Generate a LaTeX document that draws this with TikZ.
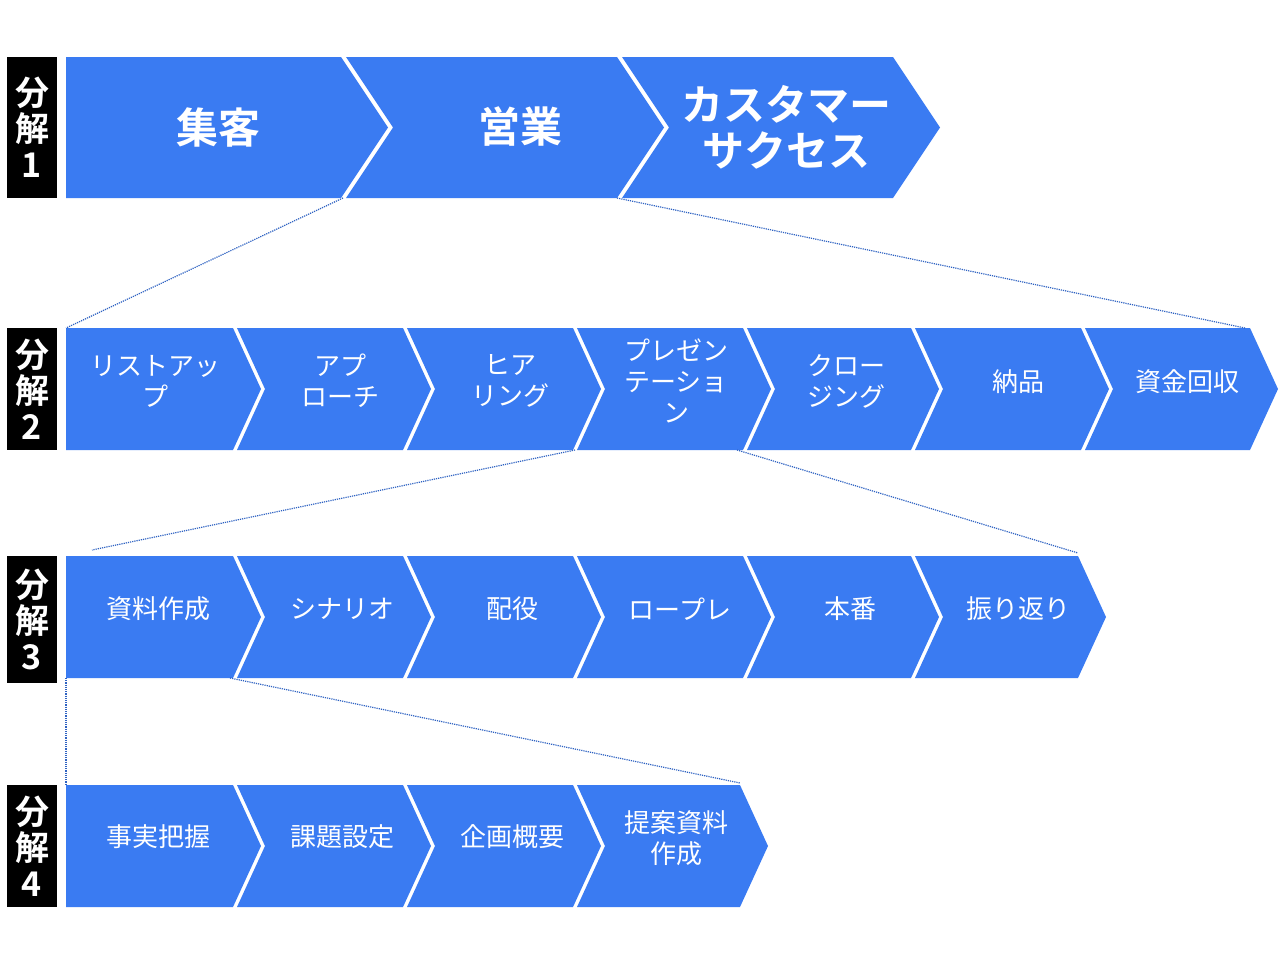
\documentclass[tikz,border=0pt]{standalone}
\usepackage{fontspec}
\newfontfamily\jp{Noto Sans CJK JP}
\newfontfamily\jpb{Noto Sans CJK JP Bold}
\definecolor{cblue}{HTML}{3A7BF2}
\tikzset{
  lbl/.style={fill=black,text=white,minimum width=50pt,inner sep=0pt,font=\jpb\fontsize{34}{36}\selectfont,align=center},
  txt/.style={text=white,align=center,font=\jp\fontsize{26}{31}\selectfont},
  big/.style={text=white,align=center,font=\jpb\fontsize{42}{46}\selectfont},
  link/.style={densely dotted,cblue!80!black,line width=1.2pt}
}
% \chev{start}{end}{top}{bot}{depth}{notch 0/1}
\newcommand\mychev[6]{%
  \pgfmathsetmacro\mid{(#3+#4)/2}%
  \ifnum#6=1
    \fill[cblue] (#1,#3) -- (#2,#3) -- (#2+#5,\mid) -- (#2,#4) -- (#1,#4) -- (#1+#5,\mid) -- cycle;
  \else
    \fill[cblue] (#1,#3) -- (#2,#3) -- (#2+#5,\mid) -- (#2,#4) -- (#1,#4) -- cycle;
  \fi}
\begin{document}
\begin{tikzpicture}[x=1pt,y=-1pt]
\useasboundingbox (0,0) rectangle (1280,964);
% labels
\node[lbl,minimum height=141pt] (l1) at (32,127.5) {分\\解\\1};
\node[lbl,minimum height=122pt] (l2) at (32,389) {分\\解\\2};
\node[lbl,minimum height=127pt] (l3) at (32,619.5) {分\\解\\3};
\node[lbl,minimum height=122pt] (l4) at (32,846) {分\\解\\4};
% row 1
\mychev{66}{341}{57}{198}{47}{0}
\mychev{346}{617}{57}{198}{47}{1}
\mychev{622}{893}{57}{198}{47}{1}
\node[big] (a1) at (218,127) {集客};
\node[big] (a2) at (520,127) {営業};
\node[big] (a3) at (786,127) {カスタマー\\サクセス};
% row 2
\mychev{66}{233}{328}{450}{28}{0}
\mychev{237}{403}{328}{450}{28}{1}
\mychev{407}{573}{328}{450}{28}{1}
\mychev{577}{743}{328}{450}{28}{1}
\mychev{747}{911}{328}{450}{28}{1}
\mychev{915}{1081}{328}{450}{28}{1}
\mychev{1085}{1250}{328}{450}{28}{1}
\node[txt] (b1) at (155,381) {リストアッ\\プ};
\node[txt] (b2) at (340,381) {アプ\\ローチ};
\node[txt] (b3) at (510,381) {ヒア\\リング};
\node[txt] (b4) at (676,381) {プレゼン\\テーショ\\ン};
\node[txt] (b5) at (846,381) {クロー\\ジング};
\node[txt] (b6) at (1018,382) {納品};
\node[txt] (b7) at (1187,382) {資金回収};
% row 3
\mychev{66}{233}{556}{678}{28}{0}
\mychev{237}{403}{556}{678}{28}{1}
\mychev{407}{573}{556}{678}{28}{1}
\mychev{577}{743}{556}{678}{28}{1}
\mychev{747}{911}{556}{678}{28}{1}
\mychev{915}{1078}{556}{678}{28}{1}
\node[txt] (c1) at (158,609) {資料作成};
\node[txt] (c2) at (342,609) {シナリオ};
\node[txt] (c3) at (512,609) {配役};
\node[txt] (c4) at (680,609) {ロープレ};
\node[txt] (c5) at (850,609) {本番};
\node[txt] (c6) at (1018,609) {振り返り};
% row 4
\mychev{66}{233}{785}{907}{28}{0}
\mychev{237}{403}{785}{907}{28}{1}
\mychev{407}{573}{785}{907}{28}{1}
\mychev{577}{740}{785}{907}{28}{1}
\node[txt] (d1) at (158,837) {事実把握};
\node[txt] (d2) at (342,837) {課題設定};
\node[txt] (d3) at (512,837) {企画概要};
\node[txt] (d4) at (676,838) {提案資料\\作成};
% links
\coordinate (p1) at (343,198); \coordinate (q1) at (66,328);
\coordinate (p2) at (617,198); \coordinate (q2) at (1245,328);
\coordinate (p3) at (575,450); \coordinate (q3) at (92,550);
\coordinate (p4) at (737,450); \coordinate (q4) at (1078,553);
\coordinate (p5) at (66,678); \coordinate (q5) at (66,785);
\coordinate (p6) at (230,678); \coordinate (q6) at (740,783);
\foreach \i in {1,...,6} \draw[link] (p\i) -- (q\i);
\end{tikzpicture}
\end{document}
